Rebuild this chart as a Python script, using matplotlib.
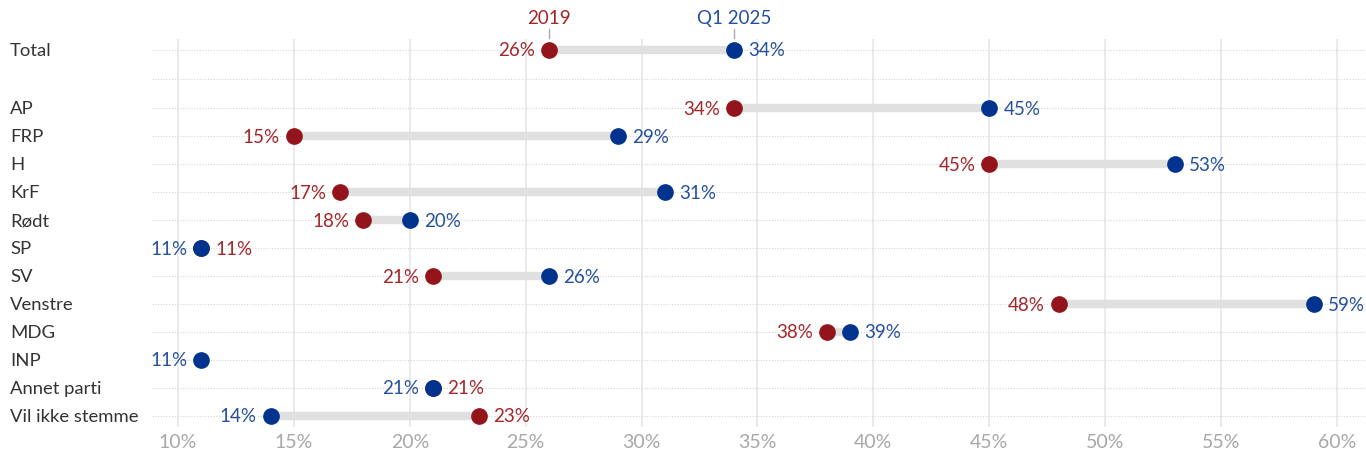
import numpy as np
import matplotlib.pyplot as plt
import matplotlib.transforms as mtransforms

plt.rcParams['font.family'] = ['Lato', 'DejaVu Sans']

# data
rows = ["Total", "", "AP", "FRP", "H", "KrF", "Rødt", "SP", "SV",
        "Venstre", "MDG", "INP", "Annet parti", "Vil ikke stemme"]
val_2019 = [26, np.nan, 34, 15, 45, 17, 18, 11, 21, 48, 38, np.nan, 21, 23]
val_2025 = [34, np.nan, 45, 29, 53, 31, 20, 11, 26, 59, 39, 11, 21, 14]
ticks = [10, 15, 20, 25, 30, 35, 40, 45, 50, 55, 60]

red_dot = "#93151b"
blue_dot = "#00338d"
red_txt = "#a3262b"
blue_txt = "#25509f"

fig = plt.figure(figsize=(13.66, 4.56), dpi=100)
ax = fig.add_axes([152 / 1366, 1 - 428 / 456, 1 - 152 / 1366, (428 - 40) / 456])

# the Total row sits a little further apart from the parties
y = np.arange(len(rows), dtype=float)
y[1] += 0.05
y[2:] += 0.1
ax.set_xlim(8.88, 61.25)
ax.set_ylim(y[-1] + 0.4, -0.38)

# grid
for t in ticks:
    ax.axvline(t, color="#e6e6e6", lw=1.2, zorder=0)
for yi in y:
    ax.axhline(yi, color="#d6d6d6", lw=0.8, ls=(0, (1, 1.5)), zorder=0)

# connecting bars and dots
for yi, a, b in zip(y, val_2019, val_2025):
    if np.isnan(a) or np.isnan(b):
        continue
    ax.plot([a, b], [yi, yi], color="#e0e0e0", lw=6, solid_capstyle="butt", zorder=1)
ax.plot(val_2019, y, "o", color=red_dot, ms=11, zorder=2, ls="none")
ax.plot(val_2025, y, "o", color=blue_dot, ms=11, zorder=3, ls="none")

# value labels: lower value on the left, ties put 2025 on the left
fs = 13.5
for yi, a, b in zip(y, val_2019, val_2025):
    if np.isnan(b):
        continue
    if np.isnan(a):
        ax.annotate(f"{b:.0f}%", (b, yi), xytext=(-14, 0), textcoords="offset pixels",
                    ha="right", va="center", color=blue_txt, fontsize=fs)
        continue
    if b <= a:
        left, lc, right, rc = b, blue_txt, a, red_txt
    else:
        left, lc, right, rc = a, red_txt, b, blue_txt
    ax.annotate(f"{left:.0f}%", (left, yi), xytext=(-14, 0), textcoords="offset pixels",
                ha="right", va="center", color=lc, fontsize=fs)
    ax.annotate(f"{right:.0f}%", (right, yi), xytext=(14, 0), textcoords="offset pixels",
                ha="left", va="center", color=rc, fontsize=fs)

# series names above the Total row
for v, name, c in [(val_2019[0], "2019", red_txt), (val_2025[0], "Q1 2025", blue_txt)]:
    ax.plot([v, v], [-0.42, -0.72], color="#aaaaaa", lw=1, clip_on=False)
    ax.annotate(name, (v, 0), xytext=(0, 32), textcoords="offset pixels",
                ha="center", va="center", color=c, fontsize=fs, annotation_clip=False)

# row labels at the left edge of the figure
trans = mtransforms.blended_transform_factory(fig.transFigure, ax.transData)
for yi, name in zip(y, rows):
    ax.text(10 / 1366, yi, name, transform=trans, ha="left", va="center",
            color="#333333", fontsize=13.3)

ax.set_xticks(ticks)
ax.set_xticklabels([f"{t}%" for t in ticks], color="#a8a8a8", fontsize=14)
ax.set_yticks([])
ax.tick_params(axis="x", length=0, pad=4)
for s in ax.spines.values():
    s.set_visible(False)

fig.savefig("out.png", dpi=100)
